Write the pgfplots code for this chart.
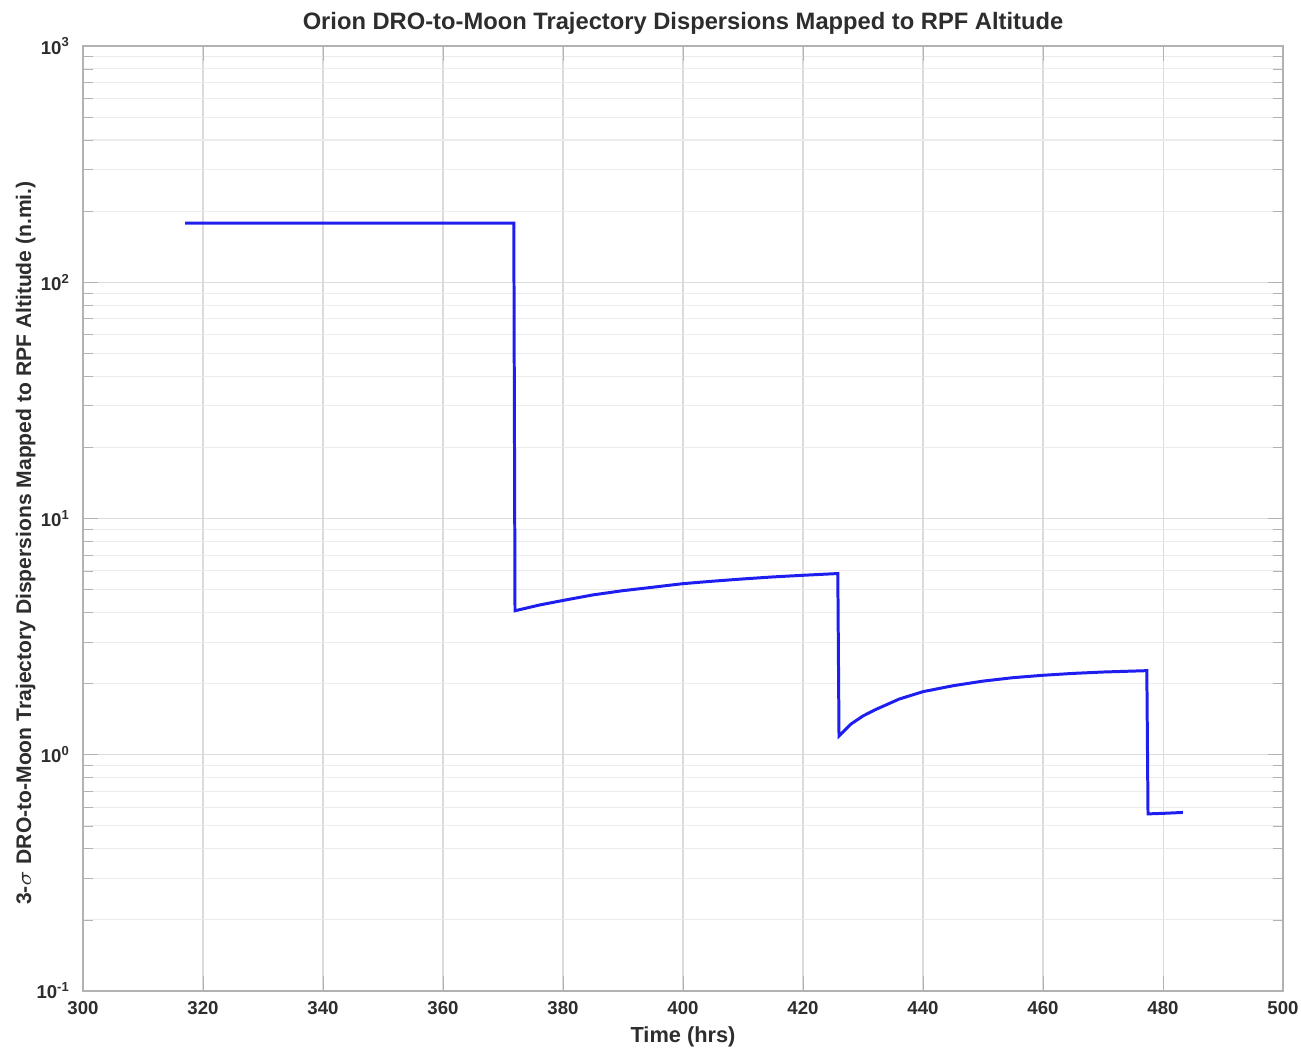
\documentclass[border=0pt]{standalone}
\usepackage{pgfplots}
\pgfplotsset{compat=1.18}
\usepackage{fontspec}
\setmainfont{Liberation Sans}
\definecolor{txt}{RGB}{45,45,45}
\definecolor{linecol}{RGB}{30,30,240}
\begin{document}
\begin{tikzpicture}
\begin{axis}[
  scale only axis,
  width=120mm, height=94.5mm,
  xmin=300, xmax=500,
  ymode=log, ymin=0.1, ymax=1000,
  xtick={300,320,...,500},
  ytick={0.1,1,10,100,1000},
  yticklabels={10\textsuperscript{-1},10\textsuperscript{0},10\textsuperscript{1},10\textsuperscript{2},10\textsuperscript{3}},
  /pgf/number format/assume math mode=true,
  ticklabel style={font=\fontsize{5.3}{6}\selectfont\bfseries, text=txt},
  xticklabel style={yshift=0.2mm},
  grid=both,
  major grid style={draw=gray!28, line width=0.3pt},
  minor grid style={draw=gray!16, line width=0.3pt},
  axis line style={draw=gray!60, line width=0.5pt},
  tick style={draw=gray!60},
  xlabel={Time (hrs)},
  xlabel style={font=\fontsize{6.2}{8}\selectfont\bfseries, text=txt, at={(0.5,0)}, anchor=base, yshift=-5.1mm},
  ylabel={3-$\sigma$ DRO-to-Moon Trajectory Dispersions Mapped to RPF Altitude (n.mi.)},
  ylabel style={font=\fontsize{6}{7}\selectfont\bfseries, text=txt, at={(ticklabel cs:0.474)}, yshift=-2.3mm},
]
\addplot[linecol, line width=0.85pt] coordinates {
(317,178) (371.8,178)
(372,4.07) (376,4.3) (380,4.5) (385,4.75) (390,4.95) (395,5.12) (400,5.3) (405,5.43) (410,5.55) (415,5.66) (420,5.75) (425.8,5.85)
(426,1.2) (428,1.35) (430,1.46) (432,1.55) (436,1.72) (440,1.85) (445,1.96) (450,2.05) (455,2.12) (460,2.17) (465,2.21) (470,2.24) (477.3,2.27)
(477.5,0.562) (480,0.565) (483.3,0.57)
};
\end{axis}
\node[anchor=base, font=\fontsize{6.75}{8}\selectfont\bfseries, text=txt, inner sep=0pt] at ([yshift=1.6mm]current axis.north) {Orion DRO-to-Moon Trajectory Dispersions Mapped to RPF Altitude};
\pgfresetboundingbox
\path (current axis.south west) ++(-8.3mm,-5.7mm) coordinate (bl);
\path (current axis.north east) ++(1.8mm,4.6mm) coordinate (tr);
\path[use as bounding box] (bl) rectangle (tr);
\end{tikzpicture}
\end{document}
